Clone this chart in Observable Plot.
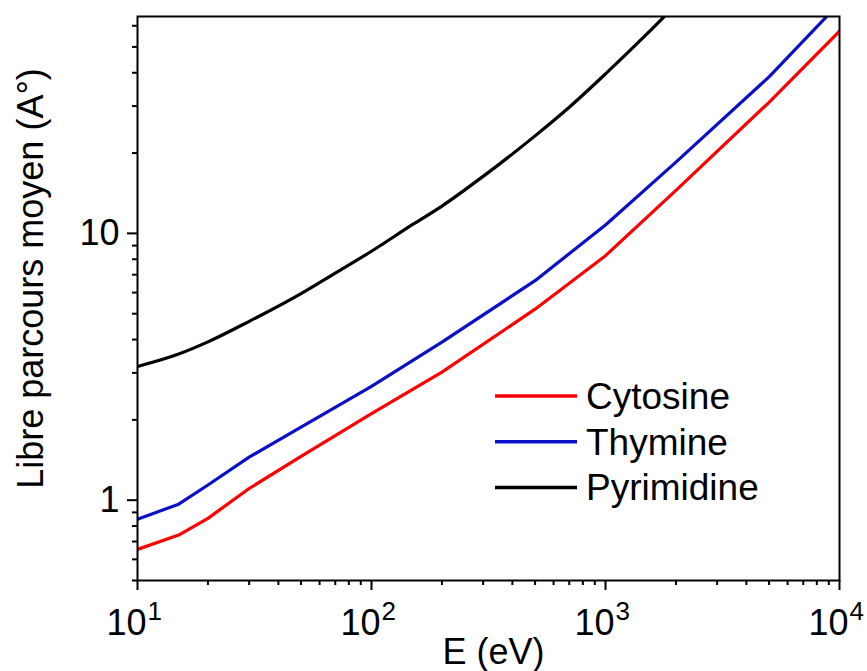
<!DOCTYPE html>
<html>
<head>
<meta charset="utf-8">
<script src="https://cdn.jsdelivr.net/npm/d3@7"></script>
<script src="https://cdn.jsdelivr.net/npm/@observablehq/plot@0.6"></script>
<style>
  html, body { margin: 0; padding: 0; background: #fff; }
  #chart { position: relative; width: 867px; height: 671px; font-family: "Liberation Sans", Arial, sans-serif; }
  #legend { position: absolute; left: 0; top: 0; pointer-events: none; }
</style>
</head>
<body>
<div id="chart"></div>
<script>
// Electron energy (eV)
const energyCT = [10, 15, 20, 30, 50, 100, 200, 500, 1000, 2000, 5000, 10000];
// Mean free path (Å) – cytosine
const cytosine = [0.654, 0.74, 0.855, 1.106, 1.46, 2.11, 3.02, 5.2, 8.25, 14.5, 31.0, 57.3];
// Mean free path (Å) – thymine
const thymine = [0.849, 0.966, 1.14, 1.45, 1.88, 2.67, 3.91, 6.65, 10.75, 18.5, 38.6, 73];

const energyP = [10, 15, 20, 30, 50, 70, 100, 150, 200, 300, 500, 700, 1000, 1500, 2000];
// Mean free path (Å) – pyrimidine
const pyrimidine = [3.17, 3.53, 3.92, 4.68, 5.95, 7.1, 8.57, 10.8, 12.66, 16.36, 23.2, 29.7, 39.6, 55.8, 71.9];

const seriesNames = ["Cytosine", "Thymine", "Pyrimidine"];
const seriesColors = ["#ff0000", "#0a10c8", "#000000"];

const xMajor = [10, 100, 1000, 10000];
const xExponents = ["1", "2", "3", "4"];
const xMinor = d3.range(1, 4).flatMap(e => d3.range(2, 10).map(k => k * 10 ** e));
const yMajor = [1, 10];
const yMinor = [0.5, 0.6, 0.7, 0.8, 0.9, 2, 3, 4, 5, 6, 7, 8, 9, 20, 30, 40, 50, 60];

const rows = [
  ...energyCT.map((e, i) => ({E: e, L: cytosine[i], s: seriesNames[0]})),
  ...energyCT.map((e, i) => ({E: e, L: thymine[i], s: seriesNames[1]})),
  ...energyP.map((e, i) => ({E: e, L: pyrimidine[i], s: seriesNames[2]}))
];

const font = "'Liberation Sans', Arial, sans-serif";

const plot = Plot.plot({
  width: 867,
  height: 671,
  marginLeft: 137,
  marginRight: 28,
  marginTop: 16,
  marginBottom: 91,
  style: {fontFamily: font, background: "#fff", color: "#000"},
  x: {type: "log", domain: [10, 10000]},
  y: {type: "log", domain: [0.5, 65]},
  color: {domain: seriesNames, range: seriesColors},
  marks: [
    Plot.line(rows.filter(d => d.s !== "Pyrimidine"), {x: "E", y: "L", z: "s", stroke: "s", strokeWidth: 3.2, clip: true}),
    Plot.line(rows.filter(d => d.s === "Pyrimidine"), {x: "E", y: "L", stroke: "s", strokeWidth: 3.2, curve: "monotone-x", clip: true}),
    Plot.axisY(yMinor, {tickSize: 5, tickFormat: () => "", strokeWidth: 2, label: null}),
    Plot.axisY(yMajor, {tickSize: 10, tickPadding: 8, tickFormat: d => String(d), fontSize: 36, strokeWidth: 2, label: null}),
    Plot.axisX(xMinor, {tickSize: 5, tickFormat: () => "", strokeWidth: 2, label: null}),
    Plot.axisX(xMajor, {tickSize: 10, tickFormat: () => "", strokeWidth: 2, label: null}),
    // power-of-ten tick labels: base and superscript exponent
    Plot.text(xMajor, {x: d => d, frameAnchor: "bottom", text: () => "10", textAnchor: "end", lineAnchor: "bottom", dx: 9, dy: 54, fontSize: 36}),
    Plot.text(xMajor, {x: d => d, frameAnchor: "bottom", text: (d, i) => xExponents[i], textAnchor: "start", lineAnchor: "bottom", dx: 10, dy: 39, fontSize: 26}),
    Plot.text(["E (eV)"], {frameAnchor: "bottom", text: d => d, textAnchor: "middle", lineAnchor: "bottom", dx: 5, dy: 83, fontSize: 36}),
    Plot.text(["Libre parcours moyen (A°)"], {frameAnchor: "left", text: d => d, rotate: -90, textAnchor: "middle", lineAnchor: "bottom", dx: -95, dy: -20, fontSize: 36}),
    Plot.frame({strokeWidth: 2})
  ]
});

const chart = document.getElementById("chart");
chart.appendChild(plot);

// Legend drawn over the plot area
const legend = d3.select(chart).append("svg")
  .attr("id", "legend")
  .attr("width", 867)
  .attr("height", 671)
  .style("font-family", font);

const items = legend.selectAll("g")
  .data(seriesNames)
  .join("g")
  .attr("transform", (d, i) => `translate(495, ${396 + i * 45.7})`);

items.append("line")
  .attr("x1", 0).attr("x2", 82)
  .attr("stroke", (d, i) => seriesColors[i])
  .attr("stroke-width", 3.5);

items.append("text")
  .attr("x", 91)
  .attr("dy", "0.35em")
  .attr("font-size", 37)
  .attr("fill", "#000")
  .text(d => d);
</script>
</body>
</html>
